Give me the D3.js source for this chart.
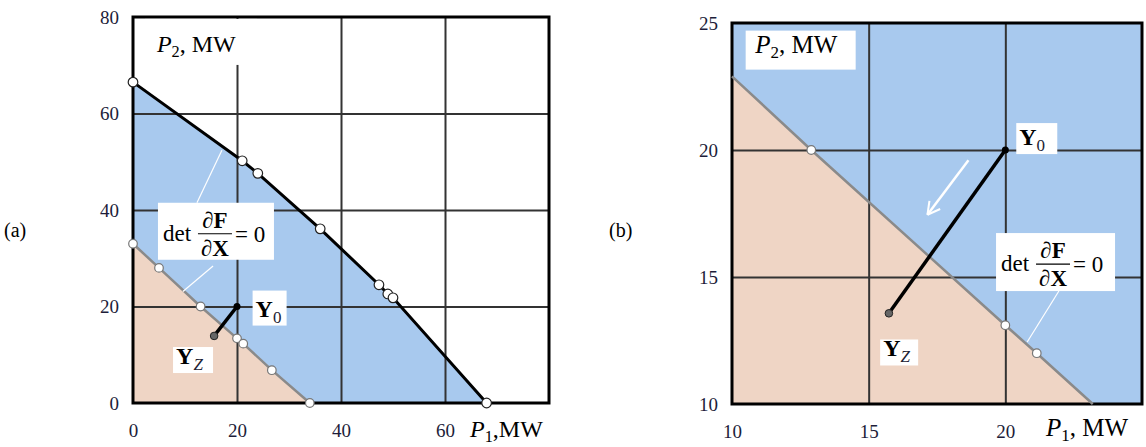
<!DOCTYPE html>
<html>
<head>
<meta charset="utf-8">
<script src="https://cdn.jsdelivr.net/npm/d3@7"></script>
<style>
  body { margin: 0; background: #fff; }
  text { font-family: "Liberation Serif", "Times New Roman", serif; }
</style>
</head>
<body>
<svg id="chart" width="1146" height="447"></svg>
<script>
// panel (a): stability boundary and load curve
const aCurveP1 = [0, 21, 24, 36, 47.3, 49, 50, 68];
const aCurveP2 = [66.5, 50.2, 47.6, 36.1, 24.5, 22.6, 21.8, 0];
const aBoundP1 = [0, 5, 13, 20, 21.2, 26.7, 34];
const aBoundP2 = [33, 28, 20, 13.4, 12.3, 6.8, 0];
const aY0 = [20, 20];
const aYZ = [15.6, 13.9];
const aTicks = [0, 20, 40, 60, 80];

// panel (b): zoomed
const bBoundP1 = [10, 12.9, 20, 21.15, 23.2];
const bBoundP2 = [22.9, 20, 13.1, 12, 10];
const bMarkIdx = [1, 2, 3];
const bY0 = [20, 20];
const bYZ = [15.74, 13.57];
const bTicks = [10, 15, 20, 25];

const BLUE = "#a8c9ee", PINK = "#efd5c5", GRID = "#333", TICKC = "#1d1d3a";

const svg = d3.select("#chart");

function zip(xs, ys) { return xs.map((x, i) => [x, ys[i]]); }

function panel(o) {
  const x = d3.scaleLinear().domain(o.dom).range([o.l, o.r]);
  const y = d3.scaleLinear().domain(o.dom).range([o.b, o.t]);
  const g = svg.append("g");
  const line = d3.line().x(d => x(d[0])).y(d => y(d[1]));
  const lo = o.dom[0];
  const bound = zip(o.bx, o.by);

  // fills
  if (o.curve) {
    g.append("rect").attr("x", o.l).attr("y", o.t).attr("width", o.r - o.l).attr("height", o.b - o.t).attr("fill", "#fff");
    const blue = o.curve.concat(bound.slice().reverse());
    g.append("path").attr("d", line(blue) + "Z").attr("fill", BLUE);
  } else {
    g.append("rect").attr("x", o.l).attr("y", o.t).attr("width", o.r - o.l).attr("height", o.b - o.t).attr("fill", BLUE);
  }
  g.append("path").attr("d", line(bound.concat([[lo, lo]])) + "Z").attr("fill", PINK);

  // grid via axes
  const inner = o.ticks.slice(1, -1);
  g.append("g").attr("transform", `translate(0,${o.b})`)
    .call(d3.axisBottom(x).tickValues(inner).tickSize(-(o.b - o.t)).tickFormat(""))
    .call(s => s.select(".domain").remove())
    .selectAll("line").attr("stroke", GRID).attr("stroke-width", 2);
  g.append("g").attr("transform", `translate(${o.l},0)`)
    .call(d3.axisLeft(y).tickValues(inner).tickSize(-(o.r - o.l)).tickFormat(""))
    .call(s => s.select(".domain").remove())
    .selectAll("line").attr("stroke", GRID).attr("stroke-width", 2);

  // tick labels
  const xl = g.append("g").attr("transform", `translate(0,${o.b + 20})`)
    .call(d3.axisBottom(x).tickValues(o.ticks.slice(0, -1)).tickSize(0).tickPadding(0));
  xl.select(".domain").remove();
  xl.selectAll("text").attr("font-size", 19).attr("fill", TICKC).attr("font-family", "Liberation Serif");
  const yl = g.append("g").attr("transform", `translate(${o.l - 14},0)`)
    .call(d3.axisLeft(y).tickValues(o.ticks).tickSize(0).tickPadding(0));
  yl.select(".domain").remove();
  yl.selectAll("text").attr("font-size", 19).attr("fill", TICKC).attr("font-family", "Liberation Serif");

  // frame
  g.append("rect").attr("x", o.l).attr("y", o.t).attr("width", o.r - o.l).attr("height", o.b - o.t)
    .attr("fill", "none").attr("stroke", "#000").attr("stroke-width", 3);

  // boundary
  g.append("path").attr("d", line(bound)).attr("fill", "none").attr("stroke", "#8a8a8a").attr("stroke-width", 2.5);
  if (o.curve) {
    g.append("path").attr("d", line(o.curve)).attr("fill", "none").attr("stroke", "#000").attr("stroke-width", 3);
    g.selectAll(".cm").data(o.curve).join("circle")
      .attr("cx", d => x(d[0])).attr("cy", d => y(d[1])).attr("r", 4.8)
      .attr("fill", "#fff").attr("stroke", "#222").attr("stroke-width", 1.2);
  }
  const marks = o.markIdx ? o.markIdx.map(i => bound[i]) : bound;
  g.selectAll(".bm").data(marks).join("circle")
    .attr("cx", d => x(d[0])).attr("cy", d => y(d[1])).attr("r", 4.3)
    .attr("fill", "#fff").attr("stroke", "#777").attr("stroke-width", 1.2);

  // Y0 -> YZ path
  g.append("line").attr("x1", x(o.y0[0])).attr("y1", y(o.y0[1])).attr("x2", x(o.yz[0])).attr("y2", y(o.yz[1]))
    .attr("stroke", "#000").attr("stroke-width", 3.5);
  g.append("circle").attr("cx", x(o.y0[0])).attr("cy", y(o.y0[1])).attr("r", 3.5).attr("fill", "#000");
  g.append("circle").attr("cx", x(o.yz[0])).attr("cy", y(o.yz[1])).attr("r", 3.8).attr("fill", "#666").attr("stroke", "#222").attr("stroke-width", 1);

  return { g, x, y };
}

function box(g, x, y, w, h) {
  g.append("rect").attr("x", x).attr("y", y).attr("width", w).attr("height", h).attr("fill", "#fff");
}

function yLabel(g, x, y, w, h, sub, italic) {
  box(g, x, y, w, h);
  const t = g.append("text").attr("x", x + 3).attr("y", y + h - 9).attr("font-size", 24).attr("fill", "#000");
  t.append("tspan").attr("font-weight", "bold").text("Y");
  t.append("tspan").attr("font-size", 17).attr("dy", 6).attr("font-style", italic ? "italic" : "normal").attr("fill", "#223").text(sub);
}

function pLabel(g, x, y, n, sep, size) {
  const t = g.append("text").attr("x", x).attr("y", y).attr("font-size", size).attr("fill", "#000");
  t.append("tspan").attr("font-style", "italic").text("P");
  t.append("tspan").attr("font-size", size * 0.68).attr("dy", 5).text(n);
  t.append("tspan").attr("dy", -5).text(sep + "MW");
}

function detLabel(g, x, y, w, h) {
  box(g, x, y, w, h);
  const fy = y + 31;
  g.append("text").attr("x", x + 5).attr("y", fy + 7).attr("font-size", 23).text("det");
  const fx = x + 57;
  const top = g.append("text").attr("x", fx).attr("y", fy - 6).attr("font-size", 23).attr("text-anchor", "middle");
  top.append("tspan").text("\u2202");
  top.append("tspan").attr("font-weight", "bold").text("F");
  g.append("line").attr("x1", fx - 17).attr("x2", fx + 17).attr("y1", fy).attr("y2", fy).attr("stroke", "#000").attr("stroke-width", 1.2);
  const bot = g.append("text").attr("x", fx).attr("y", fy + 22).attr("font-size", 23).attr("text-anchor", "middle");
  bot.append("tspan").text("\u2202");
  bot.append("tspan").attr("font-weight", "bold").text("X");
  g.append("text").attr("x", x + 77).attr("y", fy + 8).attr("font-size", 23).text("= 0");
}

function leader(p, a, b) {
  p.g.append("line").attr("x1", p.x(a[0])).attr("y1", p.y(a[1])).attr("x2", p.x(b[0])).attr("y2", p.y(b[1]))
    .attr("stroke", "#fff").attr("stroke-width", 1.2);
}

// ---- panel a
const A = panel({ dom: [0, 80], l: 133, r: 549, t: 17, b: 403, ticks: aTicks,
  curve: zip(aCurveP1, aCurveP2), bx: aBoundP1, by: aBoundP2, y0: aY0, yz: aYZ });
box(A.g, A.x(2.3), A.y(79.6), 112, 46);
pLabel(A.g, A.x(4.6), A.y(72.7), "2", ", ", 24);
leader(A, [17.1, 52.4], [12.3, 41.5]);
leader(A, [15.4, 28.4], [9.6, 23.1]);
detLabel(A.g, A.x(4.8), A.y(41.5), 116, 57);
yLabel(A.g, A.x(23), A.y(23.3), 34, 35, "0", false);
yLabel(A.g, A.x(7.7), A.y(11.6), 40, 26, "Z", true);
pLabel(A.g, 470, 437, "1", ",", 24);
svg.append("text").attr("x", 4).attr("y", 237).attr("font-size", 20).text("(a)");

// ---- panel b
const B = panel({ dom: [10, 25], l: 732, r: 1142, t: 23, b: 404, ticks: bTicks,
  bx: bBoundP1, by: bBoundP2, markIdx: bMarkIdx, y0: bY0, yz: bYZ });
box(B.g, B.x(10.5), B.y(24.7), 110, 39);
pLabel(B.g, B.x(10.85), B.y(23.8), "2", ", ", 25);
leader(B, [21.96, 14.45], [20.8, 12.44]);
detLabel(B.g, B.x(19.66), B.y(16.73), 119, 58);
yLabel(B.g, B.x(20.4), B.y(21.06), 41, 31, "0", false);
yLabel(B.g, B.x(15.42), B.y(12.54), 38, 26, "Z", true);
pLabel(B.g, 1046, 436, "1", ", ", 25);
svg.append("text").attr("x", 609).attr("y", 237).attr("font-size", 20).text("(b)");

// arrow in (b)
const ar0 = [18.65, 19.6], ar1 = [17.15, 17.45];
const ax0 = B.x(ar0[0]), ay0 = B.y(ar0[1]), ax1 = B.x(ar1[0]), ay1 = B.y(ar1[1]);
B.g.append("line").attr("x1", ax0).attr("y1", ay0).attr("x2", ax1).attr("y2", ay1).attr("stroke", "#fff").attr("stroke-width", 2.5);
const ang = Math.atan2(ay1 - ay0, ax1 - ax0);
[0.5, -0.5].forEach(da => {
  B.g.append("line").attr("x1", ax1).attr("y1", ay1)
    .attr("x2", ax1 - 14 * Math.cos(ang + da)).attr("y2", ay1 - 14 * Math.sin(ang + da))
    .attr("stroke", "#fff").attr("stroke-width", 2);
});
</script>
</body>
</html>
